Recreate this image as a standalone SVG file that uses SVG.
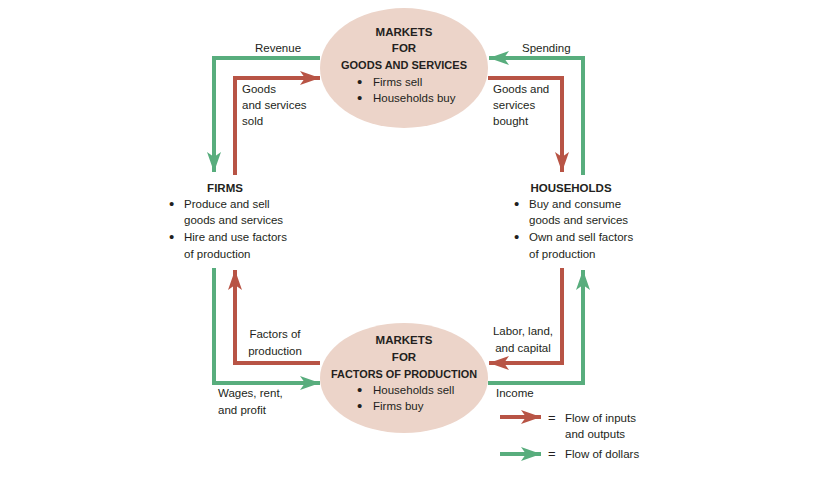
<svg xmlns="http://www.w3.org/2000/svg" width="813" height="479" viewBox="0 0 813 479">
<style>
text{font-family:"Liberation Sans",Arial,sans-serif;font-size:11.5px;fill:#231f20}
.h{font-weight:bold;font-size:11.5px;text-anchor:middle}
.c{text-anchor:middle}
.b{font-size:15px}
.eq{font-size:13px}
.r{fill:none;stroke:#b85445;stroke-width:4}
.g{fill:none;stroke:#58ad7d;stroke-width:4}
.ell{fill:#ecd4c9}
</style>
<defs>
<marker id="ar" markerUnits="userSpaceOnUse" markerWidth="22" markerHeight="16" refX="20" refY="7" orient="auto" viewBox="0 0 22 14">
<path d="M0,0 L20,7 L0,14 L5,7 Z" fill="#b85445"/>
</marker>
<marker id="ag" markerUnits="userSpaceOnUse" markerWidth="22" markerHeight="16" refX="20" refY="7" orient="auto" viewBox="0 0 22 14">
<path d="M0,0 L20,7 L0,14 L5,7 Z" fill="#58ad7d"/>
</marker>
</defs>
<rect width="813" height="479" fill="#fff"/>
<g id="connectors">
<path class="g" d="M320,58 H214 V172" marker-end="url(#ag)"/>
<path class="r" d="M235,175 V78 H320" marker-end="url(#ar)"/>
<path class="r" d="M488,78 H562 V172" marker-end="url(#ar)"/>
<path class="g" d="M583,175 V58 H489" marker-end="url(#ag)"/>
<path class="g" d="M214,268 V383 H320" marker-end="url(#ag)"/>
<path class="r" d="M320,363 H235 V270" marker-end="url(#ar)"/>
<path class="r" d="M562,268 V363 H489" marker-end="url(#ar)"/>
<path class="g" d="M488,383 H583 V270" marker-end="url(#ag)"/>
<text x="255" y="52">Revenue</text>
<text x="522" y="52">Spending</text>
<text x="242" y="93">Goods</text>
<text x="242" y="109">and services</text>
<text x="242" y="125">sold</text>
<text x="493" y="93">Goods and</text>
<text x="493" y="109">services</text>
<text x="493" y="125">bought</text>
<text class="c" x="275" y="338">Factors of</text>
<text class="c" x="275" y="355">production</text>
<text class="c" x="523" y="335">Labor, land,</text>
<text class="c" x="523" y="352">and capital</text>
<text x="218" y="397">Wages, rent,</text>
<text x="218" y="414">and profit</text>
<text x="496" y="397">Income</text>
</g>
<g id="markets-goods">
<ellipse class="ell" cx="404" cy="68" rx="84" ry="60"/>
<text class="h" x="404" y="36">MARKETS</text>
<text class="h" x="404" y="52">FOR</text>
<text class="h" x="404" y="69" textLength="126" lengthAdjust="spacingAndGlyphs">GOODS AND SERVICES</text>
<text class="b" x="357" y="87">•</text><text x="373" y="86">Firms sell</text>
<text class="b" x="357" y="103">•</text><text x="373" y="102">Households buy</text>
</g>
<g id="markets-factors">
<ellipse class="ell" cx="404" cy="378" rx="84" ry="55"/>
<text class="h" x="404" y="344">MARKETS</text>
<text class="h" x="404" y="361">FOR</text>
<text class="h" x="404" y="378" textLength="146" lengthAdjust="spacingAndGlyphs">FACTORS OF PRODUCTION</text>
<text class="b" x="357" y="395">•</text><text x="373" y="394">Households sell</text>
<text class="b" x="357" y="411">•</text><text x="373" y="410">Firms buy</text>
</g>
<g id="firms">
<text class="h" x="225" y="192">FIRMS</text>
<text class="b" x="169" y="209">•</text><text x="184" y="208">Produce and sell</text>
<text x="184" y="224">goods and services</text>
<text class="b" x="169" y="242">•</text><text x="184" y="241">Hire and use factors</text>
<text x="184" y="258">of production</text>
</g>
<g id="households">
<text class="h" x="571" y="192">HOUSEHOLDS</text>
<text class="b" x="514" y="209">•</text><text x="529" y="208">Buy and consume</text>
<text x="529" y="224">goods and services</text>
<text class="b" x="514" y="242">•</text><text x="529" y="241">Own and sell factors</text>
<text x="529" y="258">of production</text>
</g>
<g id="legend">
<path class="r" d="M500,417 H541" marker-end="url(#ar)"/>
<path class="g" d="M500,454 H541" marker-end="url(#ag)"/>
<text class="eq" x="548" y="422">=</text>
<text x="565" y="422">Flow of inputs</text>
<text x="565" y="438">and outputs</text>
<text class="eq" x="548" y="458">=</text>
<text x="565" y="458">Flow of dollars</text>
</g>
</svg>
